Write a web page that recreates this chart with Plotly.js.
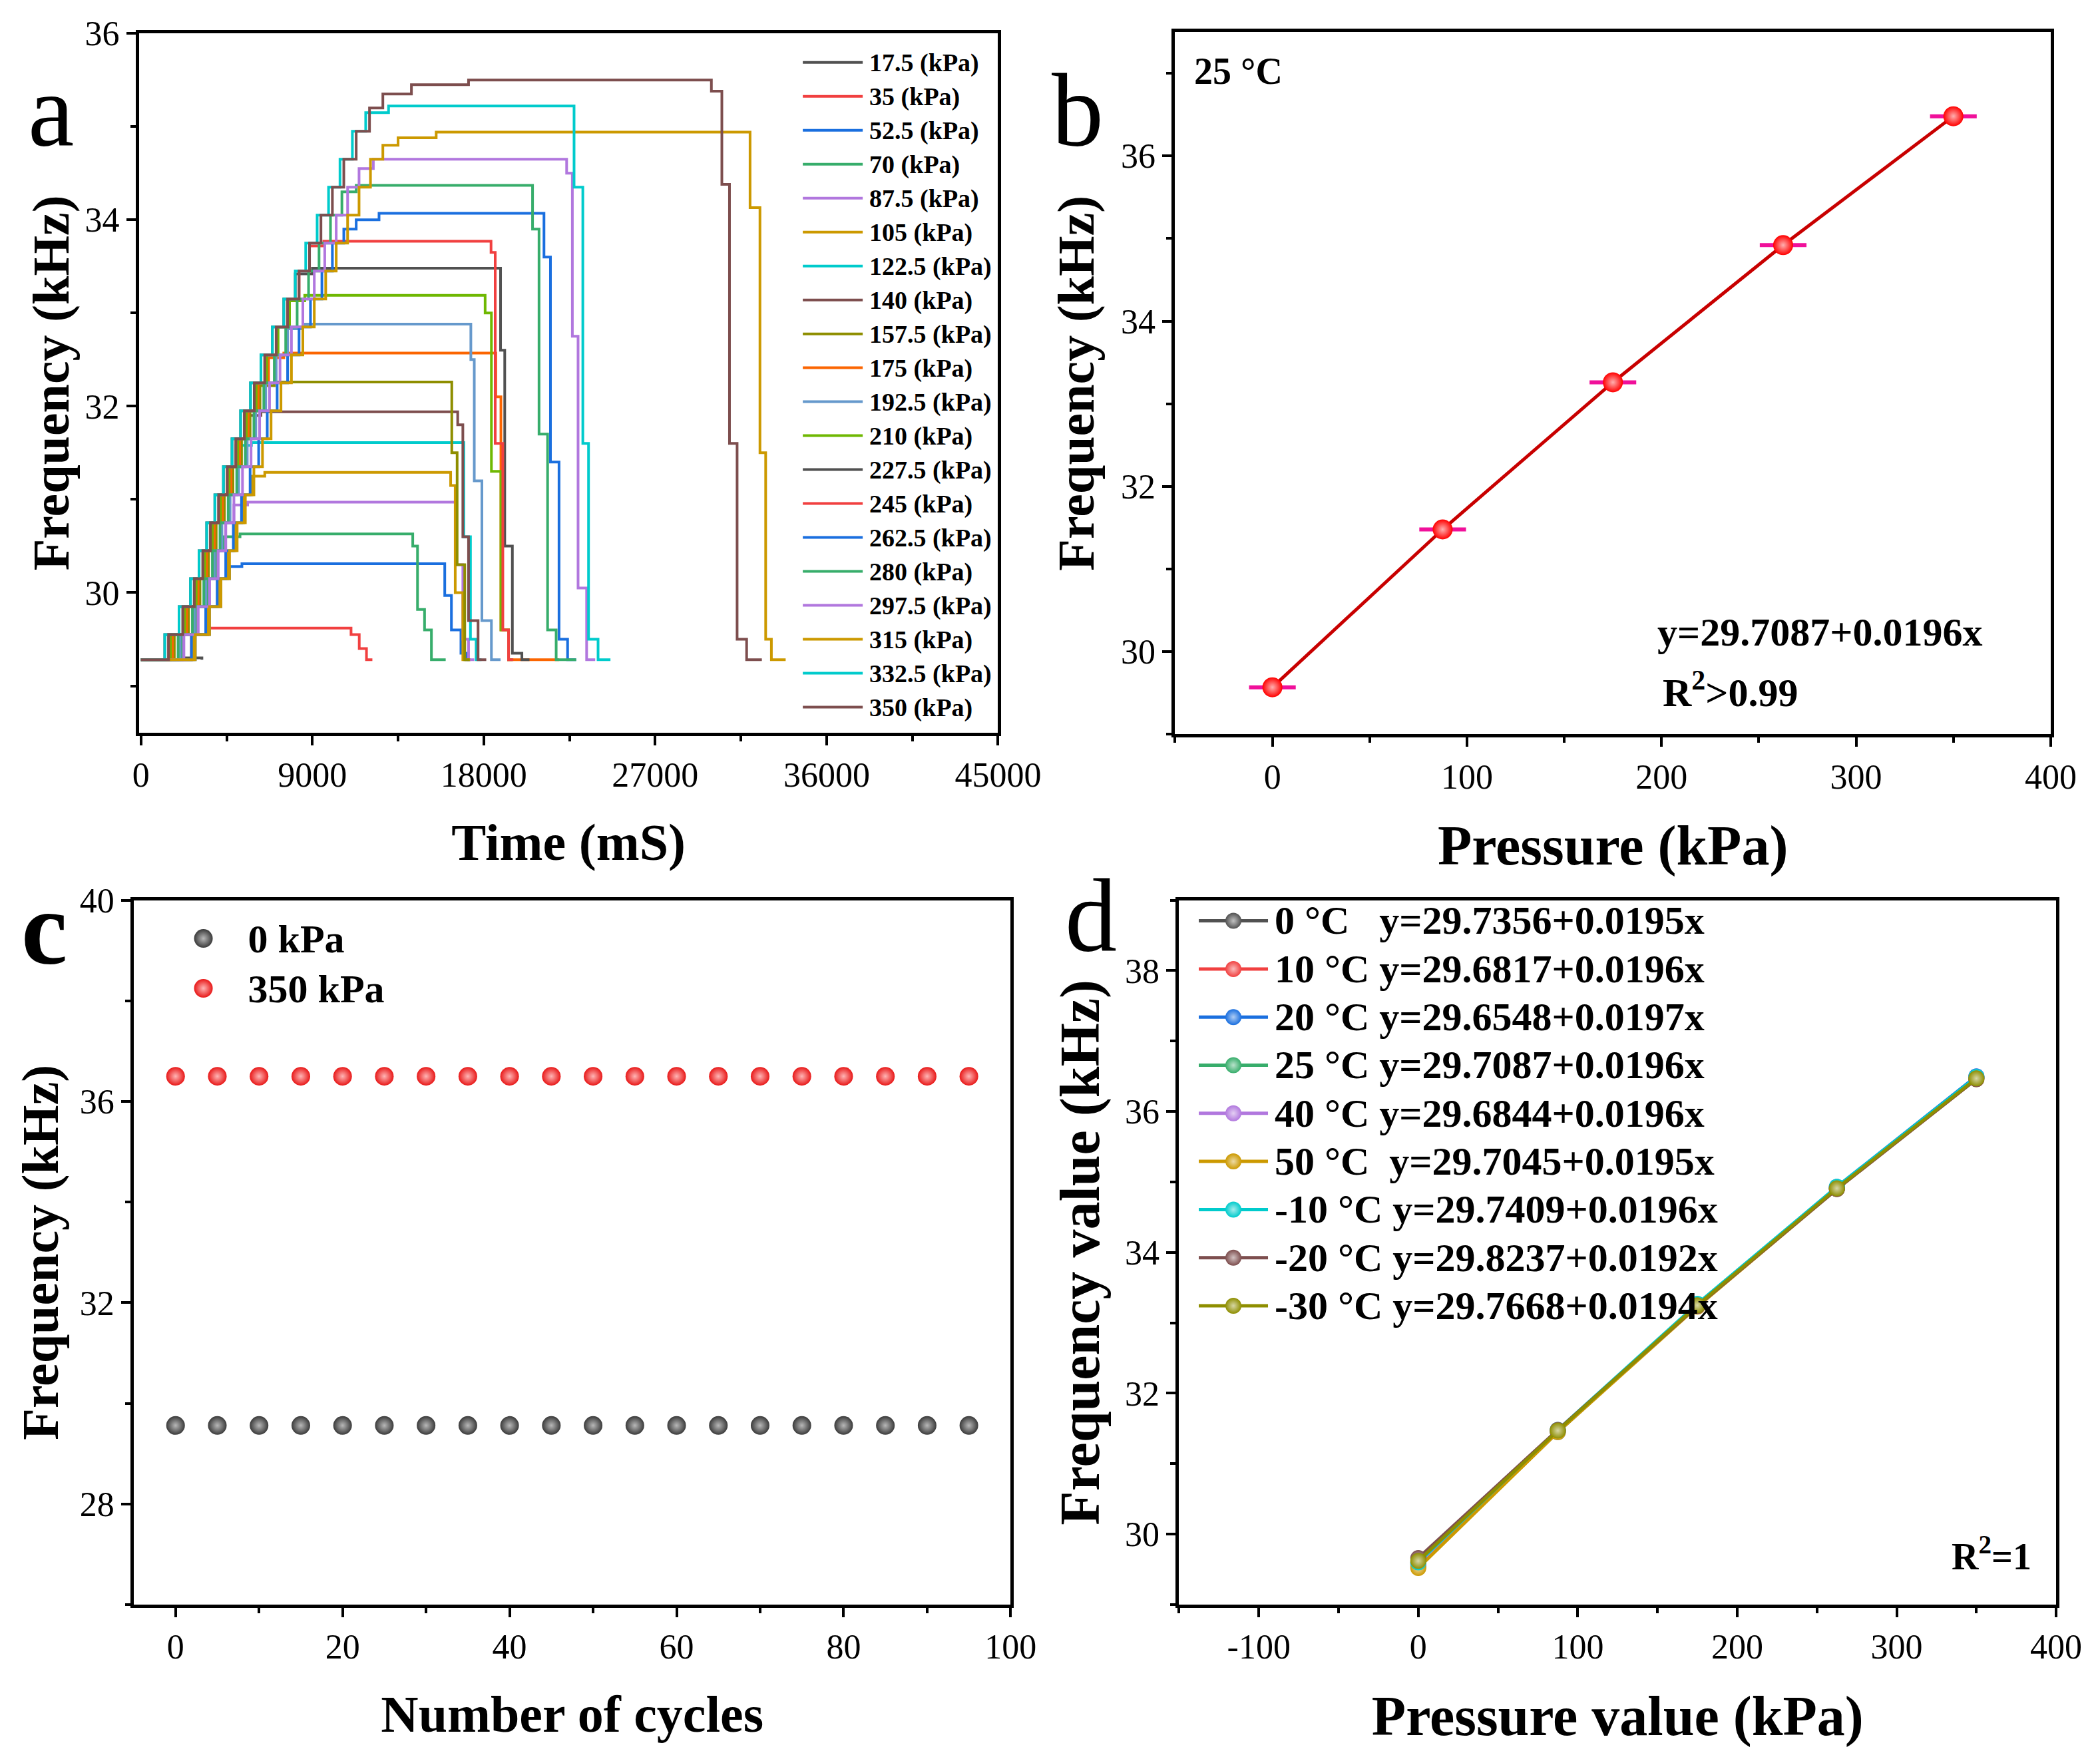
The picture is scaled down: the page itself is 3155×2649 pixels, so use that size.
<!DOCTYPE html>
<html>
<head>
<meta charset="utf-8">
<script src="https://cdn.plot.ly/plotly-3.0.1.min.js"></script>
<style>
  html, body { margin: 0; padding: 0; background: #fff; width: 3155px; height: 2649px; }
  #chart { width: 1578px; height: 1325px; transform: scale(2); transform-origin: 0 0; }
</style>
</head>
<body>
<div id="chart"></div>
<script>
// Panel a: frequency vs time for each applied pressure (step curves)
const pressuresA = ['17.5', '35', '52.5', '70', '87.5', '105', '122.5', '140', '157.5', '175',
    '192.5', '210', '227.5', '245', '262.5', '280', '297.5', '315', '332.5', '350'];

const t17 = [0, 2000, 3200];
const f17 = [29.28, 29.3, 29.28];
const t35 = [0, 2650, 3500, 11030, 11460, 11840, 12150];
const f35 = [29.28, 29.55, 29.62, 29.55, 29.4, 29.28, 29.28];
const t52 = [0, 2850, 3600, 4200, 4650, 5300, 15950, 16300, 16800, 17070, 17300];
const f52 = [29.28, 29.55, 29.85, 30.15, 30.28, 30.31, 29.97, 29.6, 29.35, 29.28, 29.28];
const t70 = [0, 2150, 2900, 3500, 3950, 4350, 5200, 14270, 14520, 14890, 15250, 16000];
const f70 = [29.28, 29.55, 29.85, 30.15, 30.45, 30.6, 30.63, 30.5, 29.82, 29.6, 29.28, 29.28];
const t87 = [0, 2250, 3000, 3600, 4050, 4450, 4880, 5600, 16570, 16900, 17200, 17500];
const f87 = [29.28, 29.55, 29.85, 30.15, 30.45, 30.75, 30.94, 30.97, 30.3, 29.5, 29.28, 29.28];
const t105 = [0, 2750, 3500, 4100, 4550, 4950, 5380, 5830, 6500, 16260, 16500, 16900, 17280];
const f105 = [29.28, 29.55, 29.85, 30.15, 30.45, 30.75, 31.05, 31.25, 31.29, 31.15, 30.0, 29.28, 29.28];
const t122 = [0, 1450, 2200, 2800, 3250, 3650, 4080, 4530, 4980, 5800, 16950, 17300, 17600, 17880];
const f122 = [29.28, 29.55, 29.85, 30.15, 30.45, 30.75, 31.05, 31.35, 31.58, 31.61, 30.6, 29.5, 29.28, 29.28];
const t140 = [0, 1550, 2300, 2900, 3350, 3750, 4180, 4630, 5080, 5530, 6300, 16630, 16900, 17200, 17700, 18130];
const f140 = [29.28, 29.55, 29.85, 30.15, 30.45, 30.75, 31.05, 31.35, 31.65, 31.9, 31.94, 31.8, 30.6, 29.7, 29.28, 29.28];
const t157 = [0, 1750, 2500, 3100, 3550, 3950, 4380, 4830, 5280, 5730, 6250, 7000, 16320, 16600, 17000, 17260];
const f157 = [29.28, 29.55, 29.85, 30.15, 30.45, 30.75, 31.05, 31.35, 31.65, 31.95, 32.22, 32.26, 31.5, 30.3, 29.28, 29.28];
const t175 = [0, 1650, 2400, 3000, 3450, 3850, 4280, 4730, 5180, 5630, 6150, 6700, 7500, 18630, 18900, 19300, 21950];
const f175 = [29.28, 29.55, 29.85, 30.15, 30.45, 30.75, 31.05, 31.35, 31.65, 31.95, 32.25, 32.52, 32.57, 32.1, 29.6, 29.28, 29.28];
const t192 = [0, 2050, 2800, 3400, 3850, 4250, 4680, 5130, 5580, 6030, 6550, 7100, 7700, 8500, 17320, 17500, 17900, 18400, 18880];
const f192 = [29.28, 29.55, 29.85, 30.15, 30.45, 30.75, 31.05, 31.35, 31.65, 31.95, 32.25, 32.55, 32.83, 32.88, 32.5, 31.2, 29.7, 29.28, 29.28];
const t210 = [0, 1550, 2300, 2900, 3350, 3750, 4180, 4630, 5080, 5530, 6050, 6600, 7200, 7800, 8600, 18070, 18400, 18900, 19300, 19500];
const f210 = [29.28, 29.55, 29.85, 30.15, 30.45, 30.75, 31.05, 31.35, 31.65, 31.95, 32.25, 32.55, 32.85, 33.13, 33.19, 33.0, 31.3, 29.6, 29.28, 29.28];
const t227 = [0, 1250, 2000, 2600, 3050, 3450, 3880, 4330, 4780, 5230, 5750, 6300, 6900, 7500, 8100, 9000, 18880, 19100, 19500, 20000, 20400];
const f227 = [29.28, 29.55, 29.85, 30.15, 30.45, 30.75, 31.05, 31.35, 31.65, 31.95, 32.25, 32.55, 32.85, 33.15, 33.42, 33.48, 32.6, 30.5, 29.35, 29.28, 29.28];
const t245 = [0, 1450, 2200, 2800, 3250, 3650, 4080, 4530, 4980, 5430, 5950, 6500, 7100, 7700, 8300, 8850, 9600, 18380, 18600, 19000, 19300, 19550];
const f245 = [29.28, 29.55, 29.85, 30.15, 30.45, 30.75, 31.05, 31.35, 31.65, 31.95, 32.25, 32.55, 32.85, 33.15, 33.45, 33.72, 33.77, 33.65, 31.6, 29.6, 29.28, 29.28];
const t262 = [0, 2650, 3400, 4000, 4450, 4850, 5280, 5730, 6180, 6630, 7150, 7700, 8300, 8900, 9500, 10050, 10650, 11300, 12500, 21160, 21500, 21950, 22400, 22850];
const f262 = [29.28, 29.55, 29.85, 30.15, 30.45, 30.75, 31.05, 31.35, 31.65, 31.95, 32.25, 32.55, 32.85, 33.15, 33.45, 33.75, 33.9, 34.0, 34.07, 33.6, 31.4, 29.5, 29.28, 29.28];
const t280 = [0, 1950, 2700, 3300, 3750, 4150, 4580, 5030, 5480, 5930, 6450, 7000, 7600, 8200, 8800, 9350, 9950, 10550, 11300, 20560, 20900, 21350, 21800, 22850];
const f280 = [29.28, 29.55, 29.85, 30.15, 30.45, 30.75, 31.05, 31.35, 31.65, 31.95, 32.25, 32.55, 32.85, 33.15, 33.45, 33.75, 34.05, 34.3, 34.37, 33.9, 31.7, 29.6, 29.28, 29.28];
const t297 = [0, 2250, 3000, 3600, 4050, 4450, 4880, 5330, 5780, 6230, 6750, 7300, 7900, 8500, 9100, 9650, 10250, 10850, 11450, 12200, 22350, 22650, 22950, 23400, 23850];
const f297 = [29.28, 29.55, 29.85, 30.15, 30.45, 30.75, 31.05, 31.35, 31.65, 31.95, 32.25, 32.55, 32.85, 33.15, 33.45, 33.75, 34.05, 34.35, 34.55, 34.65, 34.5, 32.75, 30.05, 29.28, 29.28];
const t315 = [0, 2850, 3600, 4200, 4650, 5050, 5480, 5930, 6380, 6830, 7350, 7900, 8500, 9100, 9700, 10250, 10850, 11450, 12050, 12700, 13500, 15500, 31980, 32500, 32800, 33100, 33850];
const f315 = [29.28, 29.55, 29.85, 30.15, 30.45, 30.75, 31.05, 31.35, 31.65, 31.95, 32.25, 32.55, 32.85, 33.15, 33.45, 33.75, 34.05, 34.35, 34.65, 34.8, 34.88, 34.94, 34.13, 31.5, 29.5, 29.28, 29.28];
const t332 = [0, 1250, 2000, 2600, 3050, 3450, 3880, 4330, 4780, 5230, 5750, 6300, 6900, 7500, 8100, 8650, 9250, 9850, 10450, 11100, 11800, 13000, 22740, 23200, 23500, 24000, 24650];
const f332 = [29.28, 29.55, 29.85, 30.15, 30.45, 30.75, 31.05, 31.35, 31.65, 31.95, 32.25, 32.55, 32.85, 33.15, 33.45, 33.75, 34.05, 34.35, 34.65, 34.95, 35.15, 35.22, 34.35, 31.6, 29.5, 29.28, 29.28];
const t350 = [0, 1450, 2200, 2800, 3250, 3650, 4080, 4530, 4980, 5430, 5950, 6500, 7100, 7700, 8300, 8850, 9450, 10050, 10650, 11300, 12000, 12700, 14200, 17200, 29950, 30500, 30900, 31300, 31800, 32600];
const f350 = [29.28, 29.55, 29.85, 30.15, 30.45, 30.75, 31.05, 31.35, 31.65, 31.95, 32.25, 32.55, 32.85, 33.15, 33.45, 33.75, 34.05, 34.35, 34.65, 34.95, 35.2, 35.35, 35.45, 35.5, 35.38, 34.38, 31.6, 29.5, 29.28, 29.28];

const timesA = [t17, t35, t52, t70, t87, t105, t122, t140, t157, t175, t192, t210, t227, t245, t262, t280, t297, t315, t332, t350];
const freqsA = [f17, f35, f52, f70, f87, f105, f122, f140, f157, f175, f192, f210, f227, f245, f262, f280, f297, f315, f332, f350];

// Panel b: 25 °C calibration
const pressureB = [0, 87.5, 175, 262.5, 350];
const freqB = [29.57, 31.48, 33.26, 34.92, 36.48];
const errB = [12, 12, 12, 12, 12];

// Panel c: cycling test
const cyclesC = [0, 5, 10, 15, 20, 25, 30, 35, 40, 45, 50, 55, 60, 65, 70, 75, 80, 85, 90, 95];
const freq0kPa = [29.56, 29.56, 29.56, 29.56, 29.56, 29.56, 29.56, 29.56, 29.56, 29.56,
    29.56, 29.56, 29.56, 29.56, 29.56, 29.56, 29.56, 29.56, 29.56, 29.56];
const freq350kPa = [36.5, 36.5, 36.5, 36.5, 36.5, 36.5, 36.5, 36.5, 36.5, 36.5,
    36.5, 36.5, 36.5, 36.5, 36.5, 36.5, 36.5, 36.5, 36.5, 36.5];

// Panel d: calibration at different temperatures
const pressureD = [0, 87.5, 175, 262.5, 350];
const tempsD = ['0 °C', '10 °C', '20 °C', '25 °C', '40 °C', '50 °C', '-10 °C', '-20 °C', '-30 °C'];
const fitsD = ['y=29.7356+0.0195x', 'y=29.6817+0.0196x', 'y=29.6548+0.0197x', 'y=29.7087+0.0196x',
    'y=29.6844+0.0196x', 'y=29.7045+0.0195x', 'y=29.7409+0.0196x', 'y=29.8237+0.0192x', 'y=29.7668+0.0194x'];
const freqD = [
    [29.60, 31.46, 33.26, 34.90, 36.48],
    [29.57, 31.47, 33.24, 34.92, 36.49],
    [29.55, 31.45, 33.25, 34.93, 36.50],
    [29.58, 31.47, 33.25, 34.92, 36.48],
    [29.57, 31.46, 33.26, 34.91, 36.48],
    [29.52, 31.45, 33.23, 34.90, 36.46],
    [29.60, 31.48, 33.27, 34.93, 36.49],
    [29.66, 31.48, 33.24, 34.90, 36.46],
    [29.62, 31.47, 33.25, 34.91, 36.47]
];
const tickValsD = [-100, 0, 100, 200, 300, 400];
const tickTextD = ['-100', '0', '100', '200', '300', '400'];

// Origin-like palette
const originColors = ['#515151', '#F14040', '#1A6FDF', '#37AD6B', '#B177DE', '#CC9900',
    '#00CBCC', '#7D4E4E', '#8E8E00', '#FB6501', '#6699CC', '#6FB802'];
const tempColors = ['#515151', '#F14040', '#1A6FDF', '#37AD6B', '#B177DE', '#CC9900', '#00CBCC', '#7D4E4E', '#8E8E00'];
const tempGaps = [3, 1, 1, 1, 1, 2, 1, 1, 1];

const serif = 'Liberation Serif, Times New Roman, serif';
const W = 1578, H = 1325;

function lighten(hex) {
    const n = parseInt(hex.slice(1), 16);
    const r = (n >> 16) & 255, g = (n >> 8) & 255, b = n & 255;
    const mix = (c) => Math.round(c + (255 - c) * 0.65);
    return 'rgb(' + mix(r) + ',' + mix(g) + ',' + mix(b) + ')';
}

function sized(text, size) {
    return '<span style="font-size:' + size + 'px">' + text + '</span>';
}

function axis(extra) {
    return Object.assign({
        showline: true, mirror: true, linecolor: '#000', linewidth: 2.5,
        ticks: 'outside', ticklen: 7, tickwidth: 2, tickcolor: '#000',
        showgrid: false, zeroline: false, automargin: false,
        tickfont: {family: serif, size: 26, color: '#000'}
    }, extra);
}

function axisTitle(text, size, standoff) {
    return {text: text, font: {family: serif, size: size, color: '#000', weight: 'bold'}, standoff: standoff};
}

const traces = [];

// panel a
for (let i = 0; i < pressuresA.length; i++) {
    traces.push({
        x: timesA[i], y: freqsA[i],
        type: 'scatter', mode: 'lines',
        line: {color: originColors[i % originColors.length], width: 2, shape: 'hv'},
        name: sized(pressuresA[i] + ' (kPa)', 19),
        xaxis: 'x', yaxis: 'y', legend: 'legend'
    });
}

// panel b
traces.push({
    x: pressureB, y: freqB,
    type: 'scatter', mode: 'lines+markers',
    line: {color: '#C80000', width: 2.5},
    marker: {color: '#FF0000', size: 15, gradient: {type: 'radial', color: '#FFB0B0'}},
    error_x: {type: 'data', array: errB, visible: true, color: '#F0109A', thickness: 3, width: 0},
    showlegend: false, xaxis: 'x2', yaxis: 'y2'
});

// panel c
traces.push({
    x: cyclesC, y: freq0kPa, type: 'scatter', mode: 'markers', name: sized('0 kPa', 30),
    marker: {color: '#3A3A3A', size: 14, gradient: {type: 'radial', color: '#B8B8B8'}},
    xaxis: 'x3', yaxis: 'y3', legend: 'legend2'
});
traces.push({
    x: cyclesC, y: freq350kPa, type: 'scatter', mode: 'markers', name: sized('350 kPa', 30),
    marker: {color: '#E81818', size: 14, gradient: {type: 'radial', color: '#FFB5B5'}},
    xaxis: 'x3', yaxis: 'y3', legend: 'legend2'
});

// panel d
for (let i = 0; i < tempsD.length; i++) {
    traces.push({
        x: pressureD, y: freqD[i], type: 'scatter', mode: 'lines+markers',
        name: sized(tempsD[i] + '\u00a0'.repeat(tempGaps[i]) + fitsD[i], 30),
        line: {color: tempColors[i], width: 2.5},
        marker: {color: tempColors[i], size: 12, gradient: {type: 'radial', color: lighten(tempColors[i])}},
        xaxis: 'x4', yaxis: 'y4', legend: 'legend3'
    });
}

function ann(text, x, y, size, extra) {
    return Object.assign({
        text: text, x: x, y: y, xref: 'paper', yref: 'paper',
        xanchor: 'left', yanchor: 'middle', showarrow: false,
        font: {family: serif, size: size, color: '#000'}
    }, extra);
}

const layout = {
    width: W, height: H,
    margin: {l: 0, r: 0, t: 0, b: 0},
    paper_bgcolor: '#fff', plot_bgcolor: '#fff',
    showlegend: true,

    xaxis: axis({domain: [0.0662, 0.4751], anchor: 'y', range: [-100, 45000],
        tick0: 0, dtick: 9000, tickformat: 'd',
        minor: {dtick: 4500, ticks: 'outside', ticklen: 4, tickwidth: 2, tickcolor: '#000'},
        title: axisTitle('Time (mS)', 39, 23)}),
    yaxis: axis({domain: [0.5847, 0.9811], anchor: 'x', range: [28.5, 36],
        tick0: 30, dtick: 2,
        minor: {dtick: 1, ticks: 'outside', ticklen: 4, tickwidth: 2, tickcolor: '#000'},
        title: axisTitle('Frequency (kHz)', 39, 0)}),

    xaxis2: axis({domain: [0.5594, 0.9762], anchor: 'y2', range: [-50, 400],
        tick0: 0, dtick: 100,
        minor: {dtick: 50, ticks: 'outside', ticklen: 4, tickwidth: 2, tickcolor: '#000'},
        title: axisTitle('Pressure (kPa)', 42, 23)}),
    yaxis2: axis({domain: [0.5836, 0.9819], anchor: 'x2', range: [29, 37.5],
        tick0: 30, dtick: 2,
        minor: {dtick: 1, ticks: 'outside', ticklen: 4, tickwidth: 2, tickcolor: '#000'},
        title: axisTitle('Frequency (kHz)', 39, 8)}),

    xaxis3: axis({domain: [0.0637, 0.4811], anchor: 'y3', range: [-5, 100],
        tick0: 0, dtick: 20,
        minor: {dtick: 10, ticks: 'outside', ticklen: 4, tickwidth: 2, tickcolor: '#000'},
        title: axisTitle('Number of cycles', 39, 23)}),
    yaxis3: axis({domain: [0.0902, 0.4896], anchor: 'x3', range: [26, 40],
        tick0: 28, dtick: 4,
        minor: {dtick: 2, ticks: 'outside', ticklen: 4, tickwidth: 2, tickcolor: '#000'},
        title: axisTitle('Frequency (kHz)', 39, 4)}),

    xaxis4: axis({domain: [0.5613, 0.9788], anchor: 'y4', range: [-150, 400],
        tickmode: 'array', tickvals: tickValsD, ticktext: tickTextD,
        minor: {dtick: 50, ticks: 'outside', ticklen: 4, tickwidth: 2, tickcolor: '#000'},
        title: axisTitle('Pressure value (kPa)', 42, 23)}),
    yaxis4: axis({domain: [0.0902, 0.4896], anchor: 'x4', range: [29, 39],
        tick0: 30, dtick: 2,
        minor: {dtick: 1, ticks: 'outside', ticklen: 4, tickwidth: 2, tickcolor: '#000'},
        title: axisTitle('Frequency value (kHz)', 42, 6)}),

    legend: {x: 0.379, y: 0.978, xanchor: 'left', yanchor: 'top', bgcolor: 'rgba(0,0,0,0)',
        font: {family: serif, size: 17.3, color: '#000', weight: 'bold'}, tracegroupgap: 0, itemwidth: 45},
    legend2: {x: 0.0756, y: 0.4858, xanchor: 'left', yanchor: 'top', bgcolor: 'rgba(0,0,0,0)',
        font: {family: serif, size: 26.5, color: '#000', weight: 'bold'}, itemwidth: 57},
    legend3: {x: 0.5675, y: 0.4953, xanchor: 'left', yanchor: 'top', bgcolor: 'rgba(0,0,0,0)',
        font: {family: serif, size: 25.5, color: '#000', weight: 'bold'}, itemwidth: 52},

    annotations: [
        ann('a', 0.0241, 0.938, 78, {xanchor: 'center'}),
        ann('b', 0.513, 0.938, 78, {xanchor: 'center'}),
        ann('<b>c</b>', 0.0215, 0.4736, 78, {xanchor: 'center'}),
        ann('d', 0.5196, 0.481, 78, {xanchor: 'center'}),
        ann('<b>25 °C</b>', 0.567, 0.960, 28),
        ann('<b>y=29.7087+0.0196x</b>', 0.788, 0.642, 30),
        ann('<b>R<sup>2</sup>>0.99</b>', 0.790, 0.609, 30),
        ann('<b>R<sup>2</sup>=1</b>', 0.928, 0.1192, 28)
    ]
};

Plotly.newPlot('chart', traces, layout, {displayModeBar: false, staticPlot: true});
</script>
</body>
</html>
